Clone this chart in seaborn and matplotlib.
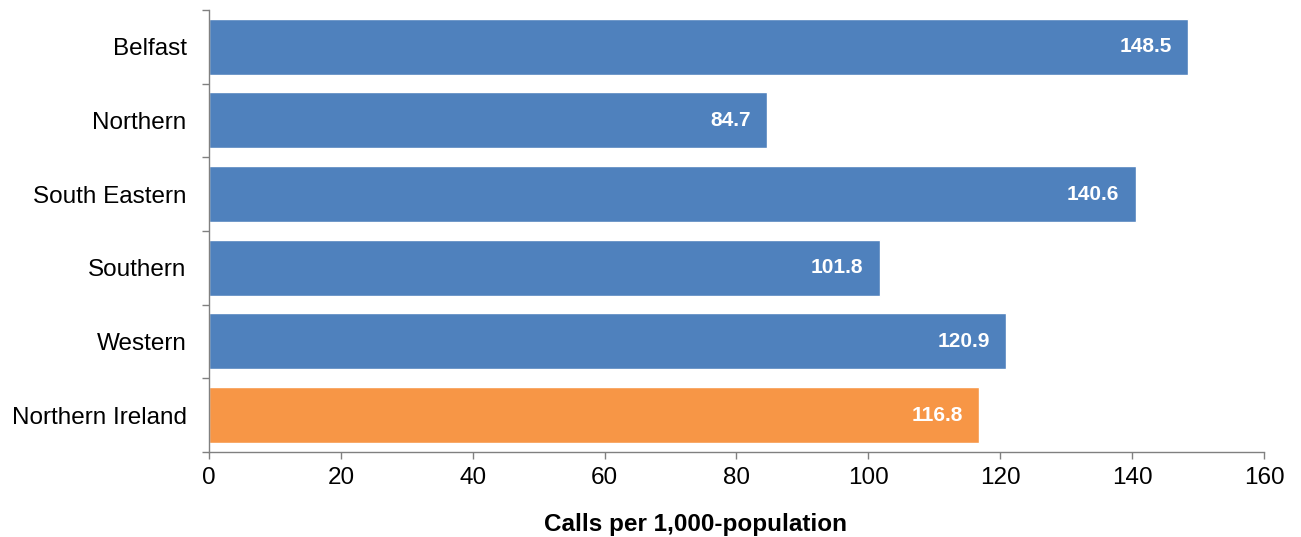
import matplotlib
matplotlib.use("Agg")
import matplotlib.pyplot as plt
import numpy as np
import pandas as pd
import seaborn as sns

# Data
areas = ["Belfast", "Northern", "South Eastern", "Southern", "Western", "Northern Ireland"]
calls = [148.5, 84.7, 140.6, 101.8, 120.9, 116.8]
bar_colors = ["#4F81BD", "#4F81BD", "#4F81BD", "#4F81BD", "#4F81BD", "#F79646"]
x_ticks = [0, 20, 40, 60, 80, 100, 120, 140, 160]

df = pd.DataFrame({"area": areas, "calls": calls})

sns.set_style("white")
plt.rcParams["font.family"] = ["Liberation Sans", "DejaVu Sans"]
plt.rcParams["text.color"] = "black"
plt.rcParams["xtick.color"] = "#808080"
plt.rcParams["ytick.color"] = "#808080"

fig = plt.figure(figsize=(13.01, 5.37), dpi=100)
ax = fig.add_axes([0.1606, 0.1583, 0.8110, 0.8231])

sns.barplot(data=df, x="calls", y="area", hue="area", palette=bar_colors,
            orient="h", width=0.76, legend=False, ax=ax, saturation=1)

# value labels inside the bar ends
for i, val in enumerate(calls):
    ax.annotate(f"{val:.1f}", xy=(val, i), xytext=(-12, 0), textcoords="offset points",
                ha="right", va="center", color="white", fontsize=15, fontweight="bold")

ax.set_xlim(0, 160)
ax.set_ylim(len(areas) - 0.5, -0.5)
ax.set_xticks(x_ticks)
ax.set_xticklabels([str(t) for t in x_ticks], fontsize=17.5, color="black")
ax.set_yticks(range(len(areas)))
ax.set_yticklabels(areas, fontsize=17.5, color="black")
ax.tick_params(axis="y", which="major", left=False, length=0, pad=16)
ax.set_yticks(np.arange(-0.5, len(areas), 1.0), minor=True)
ax.tick_params(axis="y", which="minor", left=True, length=5, color="#808080", width=1)
ax.tick_params(axis="x", which="major", bottom=True, length=5, color="#808080", width=1, pad=6)
ax.set_ylabel("")
ax.set_xlabel("Calls per 1,000-population", fontsize=17.5, fontweight="bold", color="black")
ax.xaxis.set_label_coords(0.4607, -0.163)
ax.xaxis.label.set_va("center")

for side in ["top", "right"]:
    ax.spines[side].set_visible(False)
for side in ["left", "bottom"]:
    ax.spines[side].set_color("#808080")
    ax.spines[side].set_linewidth(1)

fig.savefig("out.png", dpi=100)
